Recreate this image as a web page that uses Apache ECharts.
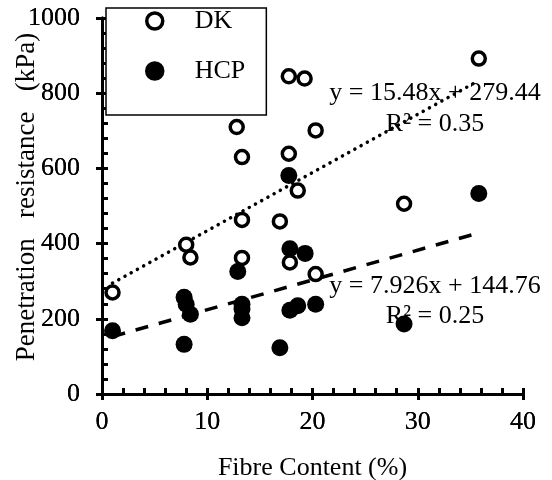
<!DOCTYPE html>
<html><head><meta charset="utf-8">
<script src="https://cdn.jsdelivr.net/npm/echarts@6/dist/echarts.min.js"></script>
<style>html,body{margin:0;padding:0;background:#fff}#c{width:552px;height:480px}</style>
</head><body><div id="c"></div>
<script>
const seriesNames = ['DK', 'HCP'];
const dkX = [1.0, 8.0, 8.4, 12.8, 13.3, 13.3, 13.3, 16.9, 17.75, 19.25, 17.75, 18.6, 17.85, 20.3, 20.3, 28.7, 35.8];
const dkY = [270, 397, 363, 710, 630, 463, 362, 459, 845, 839, 639, 541, 350, 701, 319, 506, 892];
const hcpX = [1.0, 7.8, 8.0, 8.4, 7.8, 12.9, 13.3, 13.3, 13.3, 16.9, 17.75, 17.85, 19.3, 17.85, 18.6, 20.3, 28.7, 35.8];
const hcpY = [168, 257, 239, 212, 132, 326, 239, 226, 203, 123, 581, 386, 374, 223, 235, 239, 186, 533];
const dkFit = {slope: 15.48, intercept: 279.44, r2: '0.35'};
const hcpFit = {slope: 7.926, intercept: 144.76, r2: '0.25'};
const xTicks = [0, 10, 20, 30, 40];
const yTicks = [0, 200, 400, 600, 800, 1000];
const xName = 'Fibre Content (%)';
const yName = 'Penetration   resistance   (kPa)';

const FONT = 'Liberation Serif';
const zip = (xs, ys) => xs.map((x, i) => [x, ys[i]]);
const fitLine = (xs, f) => {
  const lo = Math.min(...xs), hi = Math.max(...xs);
  return [[lo, f.intercept + f.slope * lo], [hi, f.intercept + f.slope * hi]];
};
const eqText = f => 'y = ' + f.slope + 'x + ' + f.intercept.toFixed(2) + '\nR\u00B2 = ' + f.r2;

const mkAxis = (ticks, pos, margin, inside, withMinor) => ({
  type: 'value', position: pos,
  min: ticks[0], max: ticks[ticks.length - 1], interval: ticks[1] - ticks[0],
  axisLine: {show: true, lineStyle: {color: '#000', width: 3}},
  splitLine: {show: false},
  axisTick: {show: true, inside: inside, length: 6, lineStyle: {color: '#000', width: 3}},
  minorTick: {show: withMinor, splitNumber: 5, length: 6, lineStyle: {color: '#000', width: 3}},
  axisLabel: {show: true, fontFamily: FONT, fontSize: 26, color: '#000', margin: margin,
              formatter: v => String(v)}
});

const xMain = mkAxis(xTicks, 'bottom', 15, true, true);
Object.assign(xMain, {name: xName, nameLocation: 'middle', nameGap: 61, nameMoveOverlap: false,
  nameTextStyle: {fontFamily: FONT, fontSize: 26, color: '#000'}});
const yMain = mkAxis(yTicks, 'left', 22, true, true);
Object.assign(yMain, {name: yName, nameLocation: 'middle', nameGap: 62, nameRotate: 90, nameMoveOverlap: false,
  nameTextStyle: {fontFamily: FONT, fontSize: 27, color: '#000', padding: [0, 0, 0, 18]}});

const chart = echarts.init(document.getElementById('c'));
chart.setOption({
  animation: false,
  backgroundColor: '#fff',
  textStyle: {fontFamily: FONT, color: '#000'},
  grid: {left: 102, right: 29, top: 18, bottom: 86, containLabel: false, outerBoundsMode: 'none'},
  xAxis: [xMain, mkAxis(xTicks, 'bottom', 15, false, false)],
  yAxis: [yMain, mkAxis(yTicks, 'left', 22, false, false)],
  legend: {
    orient: 'vertical', left: 106, top: 8,
    padding: [0, 21, 31, 39],
    itemGap: 24, itemWidth: 16, itemHeight: 16,
    backgroundColor: '#fff', borderColor: '#000', borderWidth: 1.5,
    textStyle: {fontFamily: FONT, fontSize: 26, color: '#000', padding: [0, 0, 0, 27]},
    itemStyle: {borderWidth: 3.5},
    data: seriesNames
  },
  graphic: [
    {type: 'text', left: 435 - 110, top: 78, z: 0, style: {text: eqText(dkFit), font: '26px "Liberation Serif"', fill: '#000', textAlign: 'center', lineHeight: 31, width: 220}},
    {type: 'text', left: 435 - 110, top: 271, z: 0, style: {text: eqText(hcpFit), font: '26px "Liberation Serif"', fill: '#000', textAlign: 'center', lineHeight: 30, width: 220}}
  ],
  series: [
    {name: seriesNames[0], type: 'scatter', data: zip(dkX, dkY), symbol: 'circle', symbolSize: 13, z: 5,
     itemStyle: {color: '#fff', borderColor: '#000', borderWidth: 3.5, opacity: 1}},
    {name: seriesNames[1], type: 'scatter', data: zip(hcpX, hcpY), symbol: 'circle', symbolSize: 17, z: 4,
     itemStyle: {color: '#000', borderColor: '#000', borderWidth: 0, opacity: 1}},
    {name: 'DK fit', type: 'line', data: fitLine(dkX, dkFit), showSymbol: false, symbol: 'none', z: 3,
     lineStyle: {color: '#000', width: 3.5, type: [0.1, 7], cap: 'round'}},
    {name: 'HCP fit', type: 'line', data: fitLine(hcpX, hcpFit), showSymbol: false, symbol: 'none', z: 3,
     lineStyle: {color: '#000', width: 3.5, type: [13, 11], cap: 'butt'}}
  ]
});
</script></body></html>
